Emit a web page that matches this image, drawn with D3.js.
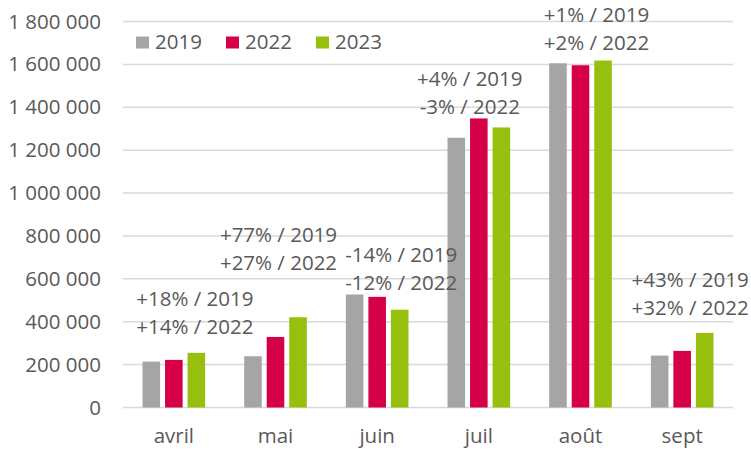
<!DOCTYPE html>
<html>
<head>
<meta charset="utf-8">
<script src="https://cdn.jsdelivr.net/npm/d3@7"></script>
<style>
    body { margin: 0; background: #fff; }
    text { font-family: "Open Sans", sans-serif; fill: #595959; }
</style>
</head>
<body>
<svg id="drawing_region"></svg>
<script>
const categories = ['avril', 'mai', 'juin', 'juil', 'août', 'sept'];
const years = ['2019', '2022', '2023'];
const values2019 = [214000, 239000, 527000, 1258000, 1605000, 242000];
const values2022 = [222000, 329000, 516000, 1348000, 1596000, 264000];
const values2023 = [255000, 421000, 456000, 1306000, 1618000, 348000];
const notes2019 = ['+18% / 2019', '+77% / 2019', '-14% / 2019', '+4% / 2019', '+1% / 2019', '+43% / 2019'];
const notes2022 = ['+14% / 2022', '+27% / 2022', '-12% / 2022', '-3% / 2022', '+2% / 2022', '+32% / 2022'];
const yTicks = [0, 200000, 400000, 600000, 800000, 1000000, 1200000, 1400000, 1600000, 1800000];

// where each annotation sits (value level of its lower line, x shift from the group centre)
const noteLevel = [343000, 642000, 549000, 1367000, 1667000, 432000];
const noteShift = [21, 3, 24, -9, 16, 8];

const colors = { '2019': '#a5a5a5', '2022': '#d50047', '2023': '#97bf0d' };
const series = { '2019': values2019, '2022': values2022, '2023': values2023 };

const config = {
    width: 751,
    height: 452,
    margin: { top: 21.5, right: 18, bottom: 44.5, left: 123 }
};

const svg = d3.select('#drawing_region')
    .attr('width', config.width)
    .attr('height', config.height);

const chart = svg.append('g')
    .attr('transform', `translate(${config.margin.left}, ${config.margin.top})`);

const inner_width = config.width - config.margin.left - config.margin.right;
const inner_height = config.height - config.margin.top - config.margin.bottom;

const xscale = d3.scaleBand()
    .domain(categories)
    .range([0, inner_width])
    .paddingInner(0.384)
    .paddingOuter(0.192);

const xsub = d3.scaleBand()
    .domain(years)
    .range([0, xscale.bandwidth()])
    .paddingInner(0.22)
    .paddingOuter(0);

const yscale = d3.scaleLinear()
    .domain([0, 1800000])
    .range([inner_height, 0]);

const fmt = v => d3.format(',')(v).replace(/,/g, ' ');

// grid lines
chart.append('g')
    .selectAll('line')
    .data(yTicks)
    .join('line')
    .attr('x1', 0)
    .attr('x2', inner_width)
    .attr('y1', d => yscale(d))
    .attr('y2', d => yscale(d))
    .attr('stroke', '#d9d9d9')
    .attr('stroke-width', 1.5);

// y axis labels
const yaxis = d3.axisLeft(yscale)
    .tickValues(yTicks)
    .tickFormat(fmt)
    .tickSize(0)
    .tickPadding(22);

const yaxis_group = chart.append('g').call(yaxis);
yaxis_group.select('.domain').remove();
yaxis_group.selectAll('text')
    .attr('font-size', '20.5px')
    .attr('fill', '#595959')
    .style('font-family', '"Open Sans", sans-serif');

// x axis labels
const xaxis = d3.axisBottom(xscale).tickSize(0).tickPadding(21);
const xaxis_group = chart.append('g')
    .attr('transform', `translate(0, ${inner_height})`)
    .call(xaxis);
xaxis_group.select('.domain').remove();
xaxis_group.selectAll('text')
    .attr('font-size', '20.5px')
    .attr('fill', '#595959')
    .style('font-family', '"Open Sans", sans-serif');

// bars
const groups = chart.append('g')
    .selectAll('g')
    .data(categories)
    .join('g')
    .attr('transform', d => `translate(${xscale(d)}, 0)`);

groups.selectAll('rect')
    .data((d, i) => years.map(y => ({ year: y, value: series[y][i] })))
    .join('rect')
    .attr('x', d => xsub(d.year))
    .attr('width', xsub.bandwidth())
    .attr('y', d => yscale(d.value))
    .attr('height', d => inner_height - yscale(d.value))
    .attr('fill', d => colors[d.year]);

// annotations
categories.forEach((c, i) => {
    const cx = xscale(c) + xscale.bandwidth() / 2 + noteShift[i];
    const by = yscale(noteLevel[i]);
    chart.append('text')
        .attr('x', cx)
        .attr('y', by - 28)
        .attr('text-anchor', 'middle')
        .attr('font-size', '20.5px')
        .text(notes2019[i]);
    chart.append('text')
        .attr('x', cx)
        .attr('y', by)
        .attr('text-anchor', 'middle')
        .attr('font-size', '20.5px')
        .text(notes2022[i]);
});

// legend
const legend = svg.append('g')
    .attr('transform', 'translate(136, 36.5)');

const items = legend.selectAll('g')
    .data(years)
    .join('g')
    .attr('transform', (d, i) => `translate(${i * 90}, 0)`);

items.append('rect')
    .attr('width', 13)
    .attr('height', 12)
    .attr('fill', d => colors[d]);

items.append('text')
    .attr('x', 19)
    .attr('y', 12.5)
    .attr('font-size', '20.5px')
    .text(d => d);
</script>
</body>
</html>
